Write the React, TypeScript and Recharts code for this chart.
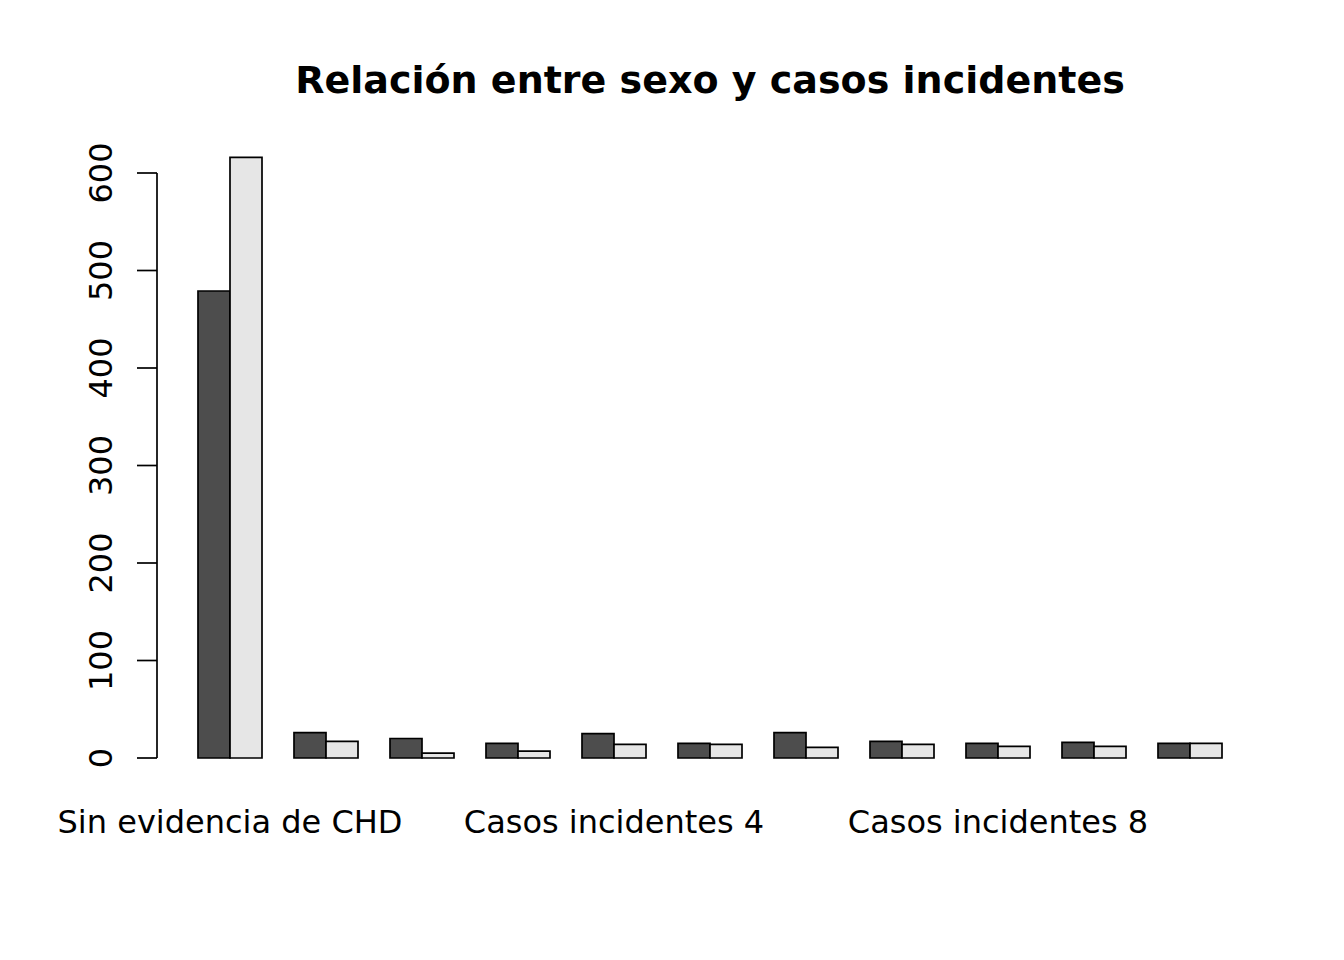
import { BarChart, Bar, XAxis, YAxis, ReferenceLine } from 'recharts';

const categories = [
  'Sin evidencia de CHD',
  'Casos incidentes 1',
  'Casos incidentes 2',
  'Casos incidentes 3',
  'Casos incidentes 4',
  'Casos incidentes 5',
  'Casos incidentes 6',
  'Casos incidentes 7',
  'Casos incidentes 8',
  'Casos incidentes 9',
  'Casos incidentes 10',
];
const serieOscura = [479, 26, 20, 15, 25, 15, 26, 17, 15, 16, 15];
const serieClara = [616, 17, 5, 7, 14, 14, 11, 14, 12, 12, 15];
const yTicks = [0, 100, 200, 300, 400, 500, 600];

const data = categories.map((name, i) => ({
  name,
  oscuro: serieOscura[i],
  claro: serieClara[i],
}));

const FONT = '"DejaVu Sans", Verdana, sans-serif';

const XTick = ({ x, y, payload }: any) => (
  <text x={x} y={y + 75} textAnchor="middle" fontSize={32} fontFamily={FONT} fill="#000">
    {payload.value}
  </text>
);

const YTick = ({ x, y, payload }: any) => {
  const bx = x - 23;
  return (
    <text
      x={bx}
      y={y}
      transform={`rotate(-90, ${bx}, ${y})`}
      textAnchor="middle"
      fontSize={32}
      fontFamily={FONT}
      fill="#000"
    >
      {payload.value}
    </text>
  );
};

const App = () => {
  return (
    <div style={{ position: 'absolute', left: 0, top: 0, width: 1344, height: 960, background: '#fff' }}>
      <div
        style={{
          position: 'absolute',
          left: 0,
          width: 1420,
          top: 61,
          textAlign: 'center',
          fontFamily: FONT,
          fontWeight: 'bold',
          fontSize: 38,
          lineHeight: 1,
        }}
      >
        Relación entre sexo y casos incidentes
      </div>
      <BarChart
        width={1344}
        height={960}
        data={data}
        margin={{ top: 134, right: 106, bottom: 142, left: 0 }}
        barGap={0}
        style={{ position: 'absolute', left: 0, top: 0 }}
      >
        <XAxis
          xAxisId="cat"
          dataKey="name"
          interval={3}
          axisLine={false}
          tickLine={false}
          tickSize={0}
          tickMargin={0}
          height={60}
          padding={{ left: 25, right: 0 }}
          tick={<XTick />}
        />
        <XAxis xAxisId="line" type="number" domain={[0, 1]} allowDataOverflow hide />
        <YAxis
          width={157}
          domain={[0, 640]}
          ticks={yTicks}
          axisLine={false}
          tickLine={{ stroke: '#000', strokeWidth: 1.7 }}
          tickSize={20}
          tick={<YTick />}
        />
        <ReferenceLine
          xAxisId="line"
          segment={[
            { x: 0, y: 0 },
            { x: 0, y: 600 },
          ]}
          stroke="#000"
          strokeWidth={1.7}
          ifOverflow="visible"
        />
        <Bar
          xAxisId="cat"
          dataKey="oscuro"
          fill="#4D4D4D"
          stroke="#000"
          strokeWidth={1.7}
          barSize={32}
          isAnimationActive={false}
        />
        <Bar
          xAxisId="cat"
          dataKey="claro"
          fill="#E6E6E6"
          stroke="#000"
          strokeWidth={1.7}
          barSize={32}
          isAnimationActive={false}
        />
      </BarChart>
    </div>
  );
};

export default App;
